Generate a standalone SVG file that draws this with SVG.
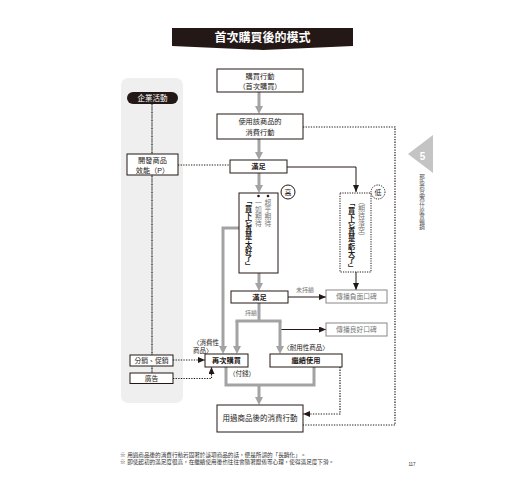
<svg xmlns="http://www.w3.org/2000/svg" width="520" height="500" viewBox="0 0 520 500">
<style>
text{font-family:"Liberation Sans","Noto Sans CJK TC","Noto Sans CJK SC",sans-serif;fill:#231815}
.t{font-size:7.2px;text-anchor:middle}
.b{font-weight:bold}
.g{fill:#777}
.box{fill:#fff;stroke:#231815;stroke-width:1}
.gbox{fill:#fff;stroke:#888;stroke-width:1}
.dbox{fill:#fff;stroke:#231815;stroke-width:1;stroke-dasharray:1.2 1.2}
.ga{fill:none;stroke:#a3a3a3;stroke-width:3}
.da{fill:none;stroke:#231815;stroke-width:1}
.dot{fill:none;stroke:#231815;stroke-width:1.2;stroke-dasharray:1.3 1.3}
.v{writing-mode:vertical-rl;text-orientation:upright;glyph-orientation-vertical:0;text-anchor:start;font-family:"Noto Sans CJK TC","Noto Sans CJK SC",sans-serif}
.lbl{font-size:6.5px}
</style>
<defs>
<marker id="gh" markerUnits="userSpaceOnUse" markerWidth="9" markerHeight="8" refX="3" refY="4" orient="auto" viewBox="0 0 9 8">
<path d="M0,0 L8,4 L0,8 z" fill="#a3a3a3"/>
</marker>
<marker id="dh" markerUnits="userSpaceOnUse" markerWidth="7" markerHeight="6" refX="7" refY="3" orient="auto" viewBox="0 0 7 6">
<path d="M0,0 L7,3 L0,6 z" fill="#231815"/>
</marker>
</defs>
<rect width="520" height="500" fill="#fff"/>

<g id="title">
<path d="M172,28 H353 V46 L263,50 L172,46 Z" fill="#231815"/>
<text x="262.5" y="42" style="font-size:12px;fill:#fff;text-anchor:middle;font-weight:600">首次購買後的模式</text>
</g>

<g id="panel">
<rect x="121" y="78" width="62" height="325" rx="7" fill="#efefef"/>
<line x1="152" y1="104" x2="152" y2="374" stroke="#6f6f6f" stroke-width="2" stroke-dasharray="1 0.6"/>
</g>

<g id="pill">
<rect x="127" y="92" width="51" height="12" rx="6" fill="#231815"/>
<text x="152.5" y="101" class="t" style="fill:#fff;font-size:7.5px">企業活動</text>
</g>

<g id="connectors">
<line class="ga" x1="259" y1="92" x2="259" y2="109" marker-end="url(#gh)"/>
<line class="ga" x1="259" y1="139" x2="259" y2="155" marker-end="url(#gh)"/>
<line class="ga" x1="259" y1="173" x2="259" y2="188" marker-end="url(#gh)"/>
<line class="ga" x1="259" y1="273" x2="259" y2="286" marker-end="url(#gh)"/>
<polyline class="ga" points="239,228 223,228 223,349" marker-end="url(#gh)"/>
<polyline class="ga" points="259,303 259,321"/>
<polyline class="ga" points="235.5,321 281.5,321"/>
<line class="ga" x1="237" y1="321" x2="237" y2="349" marker-end="url(#gh)"/>
<line class="ga" x1="280" y1="321" x2="280" y2="349" marker-end="url(#gh)"/>
<polyline class="ga" points="226,367 226,385 314,385 314,367"/>
<line class="ga" x1="259" y1="385" x2="259" y2="400" marker-end="url(#gh)"/>
<polyline class="da" points="287,167 356,167 356,192" marker-end="url(#dh)"/>
<line class="da" x1="356" y1="272" x2="356" y2="290" marker-end="url(#dh)"/>
<line class="da" x1="288" y1="297" x2="326" y2="297" marker-end="url(#dh)"/>
<line class="da" x1="281.5" y1="329.5" x2="326" y2="329.5" marker-end="url(#dh)"/>
<line class="dot" x1="178" y1="165" x2="230" y2="165"/>
<line class="dot" x1="173" y1="360" x2="205" y2="360" marker-end="url(#dh)"/>
<polyline class="dot" points="173,378.5 211.5,378.5 211.5,367" marker-end="url(#dh)"/>
<polyline class="dot" points="340,367 340,414 303,414" marker-end="url(#dh)"/>
<polyline class="dot" points="303,127 395,127 395,425 303,425"/>
<text x="305" y="292" class="lbl g" style="text-anchor:middle;font-size:6px">未持續</text>
<text x="251" y="315" class="lbl g" style="text-anchor:middle;font-size:6px">持續</text>
</g>

<g id="n-dev">
<rect class="box" x="127" y="154" width="51" height="21"/>
<text x="152.5" y="163" class="t">開發商品</text>
<text x="152.5" y="172.5" class="t">效能（P）</text>
</g>

<g id="n-buy">
<rect class="box" x="217" y="69" width="86" height="23"/>
<text x="260" y="78.5" class="t">購買行動</text>
<text x="260" y="88.5" class="t">（首次購買）</text>
</g>

<g id="n-use">
<rect class="box" x="217" y="114" width="86" height="25"/>
<text x="260" y="124" class="t">使用該商品的</text>
<text x="260" y="134.5" class="t">消費行動</text>
</g>

<g id="n-sat1">
<rect class="box" x="230" y="160" width="57" height="13"/>
<text x="258.5" y="169.3" class="t b">滿足</text>
</g>

<g id="n-high">
<rect class="box" x="239" y="193" width="39" height="80"/>
<circle cx="258.5" cy="196" r="1.3" fill="#231815"/>
<circle cx="268" cy="196" r="1.3" fill="#231815"/>
<text x="248.5" y="197" class="v b" style="font-size:7.2px">「買下它真是太好了」</text>
<text x="258.5" y="199.5" class="v g" style="font-size:6.8px">一如期待</text>
<text x="268" y="199.5" class="v g" style="font-size:6.8px">超乎期待</text>
<circle cx="288" cy="192" r="7" fill="#fff" stroke="#231815" stroke-width="1"/>
<text x="288" y="194.6" class="t" style="font-size:7px">高</text>
</g>

<g id="n-low">
<rect class="dbox" x="340" y="193" width="31" height="79"/>
<text x="351.5" y="199" class="v b" style="font-size:7.2px">「買下它真是虧大了」</text>
<text x="361.5" y="198" class="v g" style="font-size:7px">（期待落空）</text>
<circle cx="378" cy="192" r="7" fill="#fff" stroke="#231815" stroke-width="1" stroke-dasharray="1.2 1.2"/>
<text x="378" y="194.6" class="t" style="font-size:7px">低</text>
</g>

<g id="n-sat2">
<rect class="box" x="231" y="291" width="57" height="12"/>
<text x="259.5" y="299.7" class="t b">滿足</text>
</g>

<g id="n-neg">
<rect class="gbox" x="326" y="290" width="61" height="13"/>
<text x="356.5" y="299.3" class="t g" style="font-size:6.8px">傳播負面口碑</text>
</g>

<g id="n-pos">
<rect class="gbox" x="326" y="323" width="61" height="13"/>
<text x="356.5" y="332.3" class="t g" style="font-size:6.8px">傳播良好口碑</text>
</g>

<g id="n-rebuy">
<rect class="box" x="205" y="354" width="43" height="13"/>
<text x="226.5" y="363.3" class="t b">再次購買</text>
<text x="193" y="345" class="lbl">〈消費性</text>
<text x="193" y="353" class="lbl">商品〉</text>
<text x="229" y="376" class="lbl">（付錢）</text>
</g>

<g id="n-cont">
<rect class="box" x="270" y="354" width="72" height="13"/>
<text x="306" y="363.3" class="t b">繼續使用</text>
<text x="306" y="350" class="lbl" style="text-anchor:middle">〈耐用性商品〉</text>
</g>

<g id="n-after">
<rect class="box" x="217" y="405" width="86" height="27"/>
<text x="260" y="421" class="t" style="font-size:7.5px">用過商品後的消費行動</text>
</g>

<g id="n-dist">
<rect class="box" x="130" y="355" width="43" height="11"/>
<text x="151.5" y="363" class="t" style="font-size:6.8px">分銷、促銷</text>
</g>

<g id="n-ad">
<rect class="box" x="130" y="373" width="43" height="10.5"/>
<text x="151.5" y="380.8" class="t" style="font-size:6.8px">廣告</text>
</g>

<g id="tab">
<polygon points="408,154 433,135 433,173" fill="#c4c4c4"/>
<text x="422.5" y="160" style="font-size:10px;fill:#fff;font-weight:bold;text-anchor:middle">5</text>
<text x="422" y="174" class="v" style="font-size:5.6px;fill:#555">那些商品為什麼會暢銷</text>
</g>

<g id="notes">
<text x="120" y="457" style="font-size:5.6px;fill:#333">※ 用過商品後的消費行動若固著於該項商品的話，便是所謂的「長銷化」。</text>
<text x="120" y="463.5" style="font-size:5.6px;fill:#333">※ 即使起初的滿足度很高，在繼續使用後也往往會隨著厭倦等心理，使得滿足度下滑。</text>
<text x="412" y="466" style="font-size:4.5px;fill:#333;text-anchor:middle">117</text>
</g>
</svg>
